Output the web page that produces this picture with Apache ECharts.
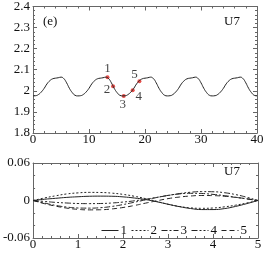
<!DOCTYPE html>
<html><head><meta charset="utf-8">
<script src="https://cdn.jsdelivr.net/npm/echarts@6/dist/echarts.min.js"></script>
<style>html,body{margin:0;padding:0;background:#fff}#c{width:270px;height:257px}</style>
</head><body><div id="c"></div>
<script>
// ---- top panel data ----
var topX = [0,0.5,1,1.5,2,2.5,3,3.5,4,4.5,5,5.5,6,6.5,7,7.5,
            8,8.5,9,9.5,10,10.5,11,11.5,12,12.5,13,13.5,14,14.5,15,15.5,
            16,16.5,17,17.5,18,18.5,19,19.5,20,20.5,21,21.5,22,22.5,23,23.5,
            24,24.5,25,25.5,26,26.5,27,27.5,28,28.5,29,29.5,30,30.5,31,31.5,
            32,32.5,33,33.5,34,34.5,35,35.5,36,36.5,37,37.5,38,38.5,39,39.5,40];
var topY = [1.976,1.977,1.983,1.995,2.012,2.033,2.048,2.057,2.060,2.062,2.065,2.058,2.038,2.012,1.992,1.979,
            1.976,1.977,1.983,1.995,2.012,2.033,2.048,2.057,2.060,2.062,2.065,2.058,2.038,2.012,1.992,1.979,
            1.976,1.977,1.983,1.995,2.012,2.033,2.048,2.057,2.060,2.062,2.065,2.058,2.038,2.012,1.992,1.979,
            1.976,1.977,1.983,1.995,2.012,2.033,2.048,2.057,2.060,2.062,2.065,2.058,2.038,2.012,1.992,1.979,
            1.976,1.977,1.983,1.995,2.012,2.033,2.048,2.057,2.060,2.062,2.065,2.058,2.038,2.012,1.992,1.979,
            1.976];
var markNames = ['1','2','3','4','5'];
var markX = [13.3, 14.3, 16.2, 17.8, 19.0];
var markY = [2.065, 2.022, 1.976, 2.003, 2.046];
var topXTicks = [0,10,20,30,40];
var topYTicks = [1.8,1.9,2,2.1,2.2,2.3,2.4];

// ---- bottom panel data ----
var botX = [0,0.25,0.5,0.75,1,1.25,1.5,1.75,2,2.25,2.5,2.75,3,3.25,3.5,3.75,4,4.25,4.5,4.75,5];
var mode1 = [0,0.002,0.0035,0.005,0.006,0.0068,0.007,0.0068,0.0058,0.004,0.0015,-0.002,-0.006,-0.0098,-0.0128,-0.0145,-0.0145,-0.013,-0.0095,-0.005,0];
var mode2 = [0,0.004,0.0075,0.0105,0.0122,0.013,0.0128,0.0118,0.0098,0.0068,0.003,-0.0015,-0.006,-0.0095,-0.0118,-0.0125,-0.012,-0.0102,-0.0075,-0.004,0];
var mode3 = [0,-0.004,-0.0078,-0.0105,-0.012,-0.0122,-0.0115,-0.0095,-0.0065,-0.0028,0.001,0.0048,0.0082,0.0105,0.0115,0.0112,0.0098,0.0078,0.0052,0.0025,0];
var mode4 = [0,-0.0015,-0.003,-0.004,-0.0048,-0.005,-0.0048,-0.004,-0.0025,-0.0005,0.002,0.005,0.008,0.011,0.0132,0.0142,0.014,0.0125,0.0095,0.0052,0];
var mode5 = [0,-0.005,-0.009,-0.0122,-0.0142,-0.015,-0.0148,-0.0135,-0.0112,-0.008,-0.0042,-0.0005,0.003,0.0055,0.0072,0.008,0.0078,0.0068,0.005,0.0028,0];
var modeNames = ['1','2','3','4','5'];
var botYTicks = [-0.06,0,0.06];

var FONT = '"Liberation Serif", "Times New Roman", serif';
var AX = '#666';
var TXT = '#111';

function pairs(xs, ys){ return xs.map(function(x,i){ return [x, ys[i]]; }); }
function fmtNum(v){ return String(Number(v.toFixed(3))); }

function xAx(grid, pos, min, max, interval, labels, minorSplit){
  return {type:'value', gridIndex:grid, position:pos, min:min, max:max, interval:interval,
    axisLine:{show:true, onZero:false, lineStyle:{color:AX, width:1}},
    axisTick:{show:true, inside:true, length:4, lineStyle:{color:AX}},
    minorTick:{show:true, splitNumber:minorSplit, length:2, lineStyle:{color:AX}},
    splitLine:{show:false},
    axisLabel:{show:labels, color:TXT, fontFamily:FONT, fontSize:13, margin:0, formatter:fmtNum}};
}
function yAx(grid, pos, min, max, interval, labels, minorSplit){
  return {type:'value', gridIndex:grid, position:pos, min:min, max:max, interval:interval,
    axisLine:{show:true, onZero:false, lineStyle:{color:AX, width:1}},
    axisTick:{show:true, inside:true, length:4, lineStyle:{color:AX}},
    minorTick:{show:true, splitNumber:minorSplit, length:2, lineStyle:{color:AX}},
    splitLine:{show:false},
    axisLabel:{show:labels, color:TXT, fontFamily:FONT, fontSize:13, margin:3, formatter:fmtNum}};
}

var labelOffsets = [[0,-9],[-6,3],[-1,9],[6,6],[-5,-7]];
var markData = markX.map(function(x,i){
  return {value:[x, markY[i]], name:markNames[i],
    label:{show:true, position:'inside', offset:labelOffsets[i], formatter:markNames[i],
      color:TXT, fontFamily:FONT, fontSize:13}};
});

var dashTypes = ['solid',[2,2],[6,2,2,2],[6,2,2,2,2,2],[5,3]];
var modes = [mode1,mode2,mode3,mode4,mode5];
var botSeries = modes.map(function(m,i){
  return {name:modeNames[i], type:'line', xAxisIndex:2, yAxisIndex:2, data:pairs(botX,m),
    smooth:true, symbol:'none', silent:true,
    lineStyle:{color:'#222', width:1, type:dashTypes[i]}, itemStyle:{color:'#222'}};
});

var option = {
  animation:false,
  grid:[
    {left:33, top:6, width:224, height:127, show:false},
    {left:33, top:163, width:225, height:75, show:false}
  ],
  xAxis:[
    xAx(0,'bottom',0,40,10,true,5),
    xAx(0,'top',0,40,10,false,5),
    xAx(1,'bottom',0,5,1,true,5),
    xAx(1,'top',0,5,1,false,5)
  ],
  yAxis:[
    yAx(0,'left',1.8,2.4,0.1,true,5),
    yAx(0,'right',1.8,2.4,0.1,false,5),
    yAx(1,'left',-0.06,0.06,0.06,true,3),
    yAx(1,'right',-0.06,0.06,0.06,false,3)
  ],
  legend:{data:modeNames, left:96, top:219, itemWidth:17, itemHeight:10, itemGap:4,
    itemStyle:{opacity:0}, lineStyle:{width:1},
    textStyle:{color:TXT, fontFamily:FONT, fontSize:13, padding:[0,0,0,-3]}},
  graphic:[
    {type:'text', left:43, top:15, style:{text:'(e)', fill:TXT, font:'13px "Liberation Serif"'}},
    {type:'text', left:224, top:15, style:{text:'U7', fill:TXT, font:'13px "Liberation Serif"'}},
    {type:'text', left:224, top:165, style:{text:'U7', fill:TXT, font:'13px "Liberation Serif"'}}
  ],
  series:[
    {type:'line', xAxisIndex:0, yAxisIndex:0, data:pairs(topX,topY), smooth:true, symbol:'none',
      silent:true, lineStyle:{color:'#222', width:1}},
    {type:'scatter', xAxisIndex:0, yAxisIndex:0, data:markData, symbolSize:4, silent:true,
      itemStyle:{color:'#e0201b'}}
  ].concat(botSeries)
};
var chart = echarts.init(document.getElementById('c'), null, {renderer:'canvas'});
chart.setOption(option);
</script></body></html>
